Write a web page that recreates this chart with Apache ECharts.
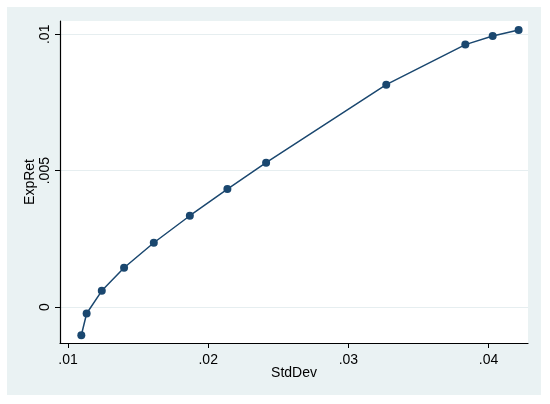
<!DOCTYPE html>
<html>
<head>
<meta charset="utf-8">
<script src="https://cdn.jsdelivr.net/npm/echarts@6/dist/echarts.min.js"></script>
<style>
html,body{margin:0;padding:0;background:#fff;}
#chart{width:550px;height:404px;}
</style>
</head>
<body>
<div id="chart"></div>
<script>
const stdDev = [0.01095, 0.01133, 0.01241, 0.0140, 0.01612, 0.01869, 0.02137, 0.02413, 0.03270, 0.03834, 0.04029, 0.04214];
const expRet = [-0.001035, -0.000239, 0.000594, 0.001439, 0.002356, 0.003347, 0.004323, 0.005292, 0.008154, 0.009622, 0.009938, 0.010158];
const xTicks = [0.01, 0.02, 0.03, 0.04];
const yTicks = [0, 0.005, 0.01];
const xName = 'StdDev';
const yName = 'ExpRet';

const fmt = v => v === 0 ? '0' : String(+v.toFixed(6)).replace(/^0\./, '.').replace(/^-0\./, '-.');
const navy = '#1a476f';
const points = stdDev.map((x, i) => [x, expRet[i]]);

const chart = echarts.init(document.getElementById('chart'), null, {renderer: 'canvas'});
chart.setOption({
  backgroundColor: '#ffffff',
  animation: false,
  graphic: [{
    type: 'rect', z: -10, silent: true,
    shape: {x: 7, y: 7, width: 534, height: 388},
    style: {fill: '#eaf2f3'}
  }],
  grid: {
    left: 60, top: 21, right: 22, bottom: 61,
    show: true, backgroundColor: '#ffffff', borderWidth: 0
  },
  xAxis: {
    type: 'value',
    min: 0.00943, max: 0.04281,
    name: xName, nameLocation: 'middle', nameGap: 23, nameMoveOverlap: false,
    nameTextStyle: {fontFamily: 'Liberation Sans, Arial', fontSize: 14, color: '#000'},
    axisLine: {show: true, onZero: false, lineStyle: {color: '#000', width: 1.2}},
    axisTick: {show: true, inside: false, length: 5, customValues: xTicks, lineStyle: {color: '#000'}},
    axisLabel: {customValues: xTicks, formatter: fmt, margin: 10,
      fontFamily: 'Liberation Sans, Arial', fontSize: 14, color: '#000'},
    splitLine: {show: false}
  },
  yAxis: {
    type: 'value',
    min: -0.00132, max: 0.010488,
    name: yName, nameLocation: 'middle', nameGap: 23, nameRotate: 90, nameMoveOverlap: false,
    nameTextStyle: {fontFamily: 'Liberation Sans, Arial', fontSize: 14, color: '#000'},
    axisLine: {show: true, onZero: false, lineStyle: {color: '#000', width: 1.2}},
    axisTick: {show: true, inside: false, length: 5, customValues: yTicks, lineStyle: {color: '#000'}},
    axisLabel: {customValues: yTicks, formatter: fmt, margin: 8, rotate: 90,
      fontFamily: 'Liberation Sans, Arial', fontSize: 14, color: '#000'},
    splitLine: {show: true, lineStyle: {color: '#e6eef0', width: 1}}
  },
  series: [{
    type: 'line',
    data: points,
    symbol: 'circle', symbolSize: 8,
    lineStyle: {color: navy, width: 1.5},
    itemStyle: {color: navy},
    silent: true
  }]
});
</script>
</body>
</html>
